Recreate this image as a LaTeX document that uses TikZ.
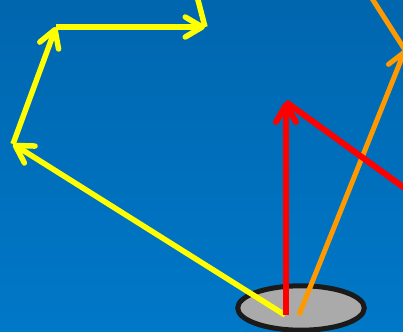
\documentclass[tikz,border=0pt]{standalone}
\usetikzlibrary{arrows.meta,shapes.geometric}
\definecolor{bgtop}{HTML}{0066AE}
\definecolor{bgbot}{HTML}{0078C8}
\definecolor{wellfill}{HTML}{AAAAAA}
\definecolor{wellline}{HTML}{1A1A1A}
\definecolor{ylw}{HTML}{FFFF00}
\definecolor{rd}{HTML}{FF0000}
\definecolor{org}{HTML}{FF9900}
\begin{document}
\begin{tikzpicture}[x=1pt,y=-1pt,
  barb/.style={-{Straight Barb[length=17pt,width=20pt,line cap=round,line join=round,line width=#1]}},
  ray/.style={line width=#1},
  wellnode/.style={ellipse,draw=wellline,fill=wellfill,line width=5pt,inner sep=0pt,minimum width=126.6pt,minimum height=44.4pt}]
\useasboundingbox (0,0) rectangle (403,331);
\clip (0,0) rectangle (403,331);
\shade[top color=bgtop,bottom color=bgbot] (0,0) rectangle (403,331);
\node[wellnode] (well) at (301,308) {};
% yellow path
\coordinate (y0) at (285,315);
\coordinate (y1) at (13,144);
\coordinate (y2) at (56,27);
\coordinate (y3) at (205,27);
\coordinate (y4) at (196.7,-5);
\draw[ray=5.5pt,ylw,barb=5.5pt] (y0) -- (y1);
\draw[ray=5.5pt,ylw,barb=5.5pt] (y1) -- (y2);
\draw[ray=5.5pt,ylw,barb=5.5pt] (y2) -- (y3);
\draw[ray=5.5pt,ylw] (y3) -- (y4);
% orange path
\coordinate (o0) at (299,315);
\coordinate (o1) at (405,50);
\coordinate (o2) at (369.8,-5);
\draw[ray=5pt,org,barb=5pt] (o0) -- (o1);
\draw[ray=5pt,org] (o1) -- (o2);
% red path
\coordinate (r0) at (286,315);
\coordinate (r1) at (286,102);
\coordinate (r2) at (410,192);
\draw[ray=6pt,rd,barb=6pt] (r0) -- (r1);
\draw[ray=6pt,rd] (r1) -- (r2);
\end{tikzpicture}
\end{document}
